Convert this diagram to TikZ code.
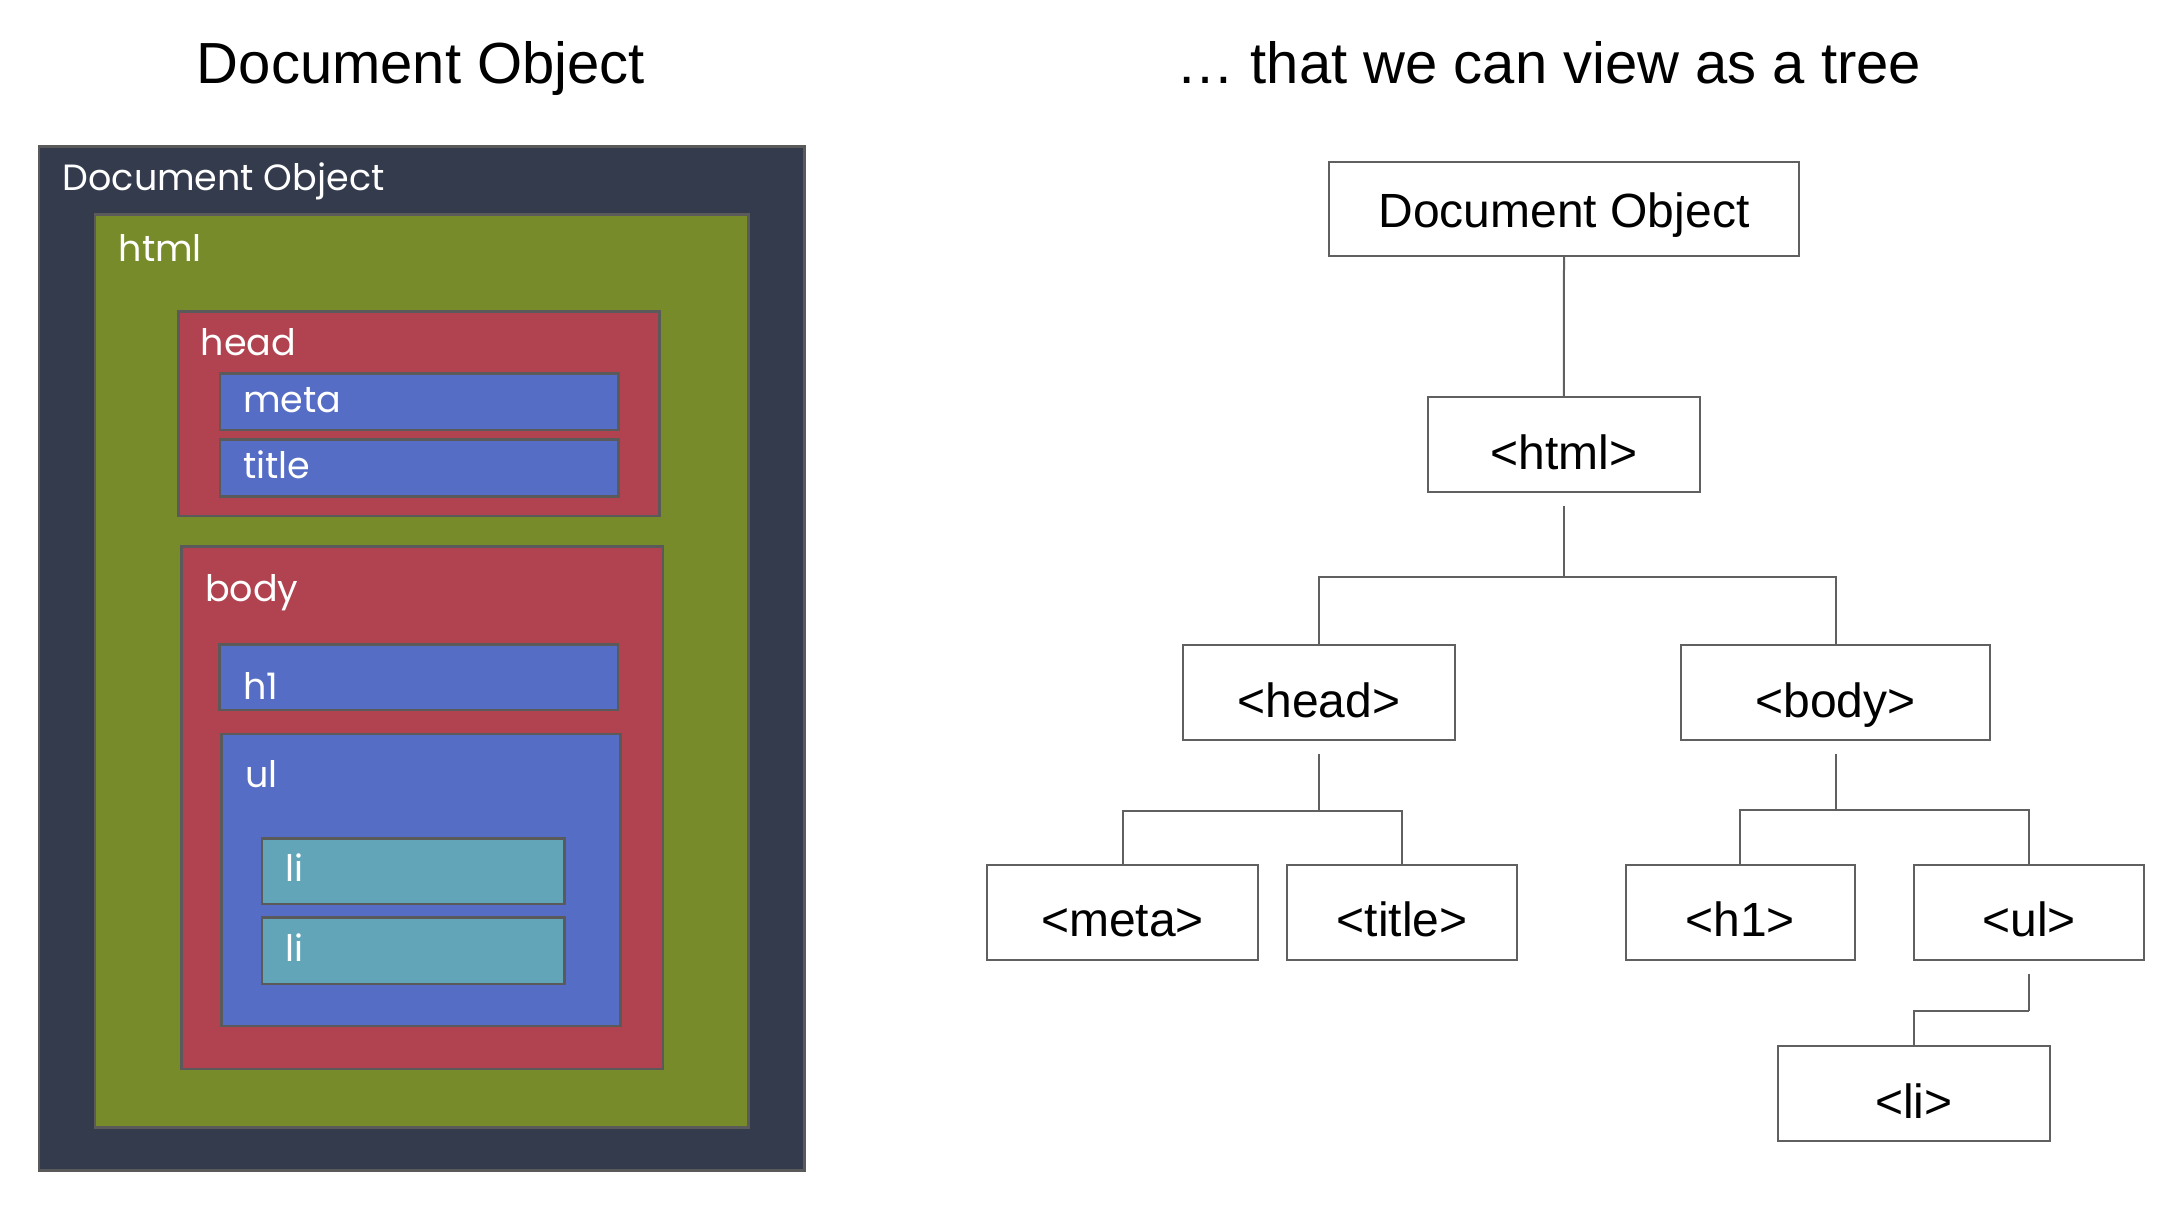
\documentclass[tikz,border=0pt]{standalone}
\usepackage{fontspec}
\setmainfont{Liberation Sans}
\newfontfamily\roundfont{Poppins}
\usetikzlibrary{calc}
\definecolor{docdark}{HTML}{333B4D}
\definecolor{htmlgreen}{HTML}{778B2B}
\definecolor{tagred}{HTML}{B1424F}
\definecolor{tagblue}{HTML}{566DC5}
\definecolor{tagteal}{HTML}{62A5B9}
\definecolor{boxline}{HTML}{5A5A5A}
\definecolor{treeline}{HTML}{606060}
\begin{document}
\begin{tikzpicture}[x=1pt,y=-1pt,
  cont/.style={draw=boxline, line width=2.5pt, anchor=north west, inner sep=0pt},
  lbl/.style={anchor=base west, inner sep=0pt, text=white, font=\roundfont\fontsize{36.5}{40}\selectfont},
  tnode/.style={draw=treeline, line width=2pt, fill=white, inner sep=0pt, anchor=north,
    font=\fontsize{48}{50}\selectfont, text height=49pt, text depth=0pt, minimum height=95pt},
  edge/.style={draw=treeline, line width=2pt},
  ttl/.style={anchor=base, inner sep=0pt, font=\fontsize{58}{60}\selectfont}]
\useasboundingbox[fill=white] (0,0) rectangle (2182,1210);
% titles
\node[ttl] (t1) at (421,83.5) {Document Object};
\node[ttl] (t2) at (1549,83.5) {… that we can view as a tree};
% left nested boxes
\node[cont, fill=docdark, minimum width=765.5pt, minimum height=1024pt] (bdoc) at (37.5,145) {};
\node[lbl] (ldoc) at (62.5,190) {Document Object};
\node[cont, fill=htmlgreen, minimum width=653.9pt, minimum height=913pt] (bhtml) at (93.5,213) {};
\node[lbl] (lhtml) at (118.5,261.7) {html};
\node[cont, fill=tagred, minimum width=481.4pt, minimum height=204.5pt] (bhead) at (177,310) {};
\node[lbl] (lhead) at (200.6,355) {head};
\node[cont, fill=tagblue, minimum width=398.4pt, minimum height=56.4pt] (bmeta) at (218.6,372.3) {};
\node[lbl] (lmeta) at (243,412.7) {meta};
\node[cont, fill=tagblue, minimum width=398.4pt, minimum height=56.7pt] (btitle) at (218.6,438.3) {};
\node[lbl] (ltitle) at (243,478.3) {title};
\node[cont, fill=tagred, minimum width=481.7pt, minimum height=522.5pt] (bbody) at (180,545) {};
\node[lbl] (lbody) at (205,601.4) {body};
\node[cont, fill=tagblue, minimum width=398.4pt, minimum height=65.4pt] (bh1) at (218.3,643.2) {};
\node[lbl] (lh1) at (243,699.6) {h1};
\node[cont, fill=tagblue, minimum width=399.3pt, minimum height=292.1pt] (bul) at (220,732.5) {};
\node[lbl] (lul) at (245,787.9) {ul};
\node[cont, fill=tagteal, minimum width=302.6pt, minimum height=65.5pt] (bli1) at (260.7,837) {};
\node[lbl] (lli1) at (285.7,881.8) {li};
\node[cont, fill=tagteal, minimum width=302.6pt, minimum height=66.1pt] (bli2) at (260.7,916.4) {};
\node[lbl] (lli2) at (285.7,961) {li};
% tree
\node[tnode, minimum width=470pt, minimum height=94pt, text height=36pt] (doc) at (1564,161) {Document Object};
\node[tnode, minimum width=272pt] (html) at (1563.8,396.4) {<html>};
\node[tnode, minimum width=272pt] (head) at (1318.7,644.4) {<head>};
\node[tnode, minimum width=309pt] (body) at (1835.5,644.4) {<body>};
\node[tnode, minimum width=271.6pt] (meta) at (1122.6,863.5) {<meta>};
\node[tnode, minimum width=229.5pt] (title) at (1402.2,863.5) {<title>};
\node[tnode, minimum width=229pt] (h1) at (1740,863.5) {<h1>};
\node[tnode, minimum width=230pt] (ul) at (2029.2,863.5) {<ul>};
\node[tnode, minimum width=271.5pt] (li) at (1913.8,1045) {<li>};
% connectors
\draw[edge] (doc.south) -- (html.north);
\coordinate (hbus) at ($(html.south)+(0,83.6)$);
\draw[edge] ($(html.south)+(0,13)$) -- (hbus);
\draw[edge] (hbus) -| (head.north);
\draw[edge] (hbus) -| (body.north);
\coordinate (headbus) at ($(head.south)+(0,69.6)$);
\draw[edge] ($(head.south)+(0,13)$) -- (headbus);
\draw[edge] (headbus) -| (meta.north);
\draw[edge] (headbus) -| (title.north);
\coordinate (bodybus) at ($(body.south)+(0,69)$);
\draw[edge] ($(body.south)+(0,13)$) -- (bodybus);
\draw[edge] (bodybus) -| (h1.north);
\draw[edge] (bodybus) -| (ul.north);
\coordinate (ulbus) at ($(ul.south)+(0,50.5)$);
\draw[edge] ($(ul.south)+(0,13)$) -- (ulbus);
\draw[edge] (ulbus) -| (li.north);
\end{tikzpicture}
\end{document}
